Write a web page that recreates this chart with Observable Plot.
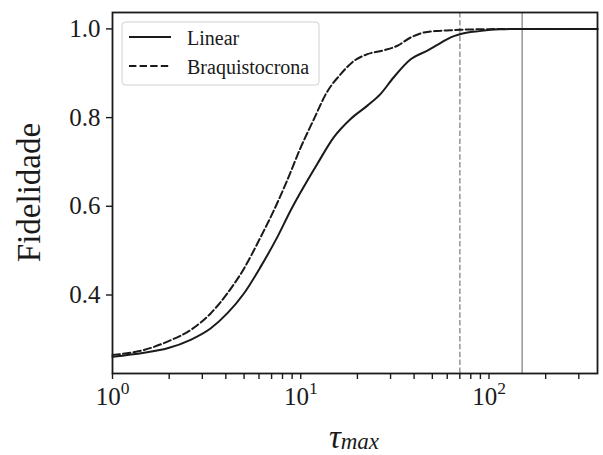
<!DOCTYPE html>
<html>
<head>
<meta charset="utf-8">
<script src="https://cdn.jsdelivr.net/npm/d3@7"></script>
<script src="https://cdn.jsdelivr.net/npm/@observablehq/plot@0.6"></script>
<style>
  html, body { margin: 0; padding: 0; background: #fff; }
</style>
</head>
<body>
<div id="chart"></div>
<script>
// ---- data ----
const tauLinear = [1, 1.47, 1.96, 2.6, 3.33, 4.08, 5.0, 6.13, 7.52, 8.85, 10, 12.26, 15, 18.4, 22.6, 26.5, 31.2, 38.5, 47.1, 55.7, 62.6, 70, 89, 114, 150, 200, 377];
const fidLinear = [0.261, 0.270, 0.280, 0.299, 0.325, 0.359, 0.404, 0.464, 0.531, 0.591, 0.632, 0.696, 0.756, 0.797, 0.827, 0.853, 0.891, 0.932, 0.951, 0.969, 0.981, 0.988, 0.995, 0.999, 1.0, 1.0, 1.0];

const tauBraq = [1, 1.47, 1.96, 2.6, 3.33, 4.08, 5.0, 6.13, 7.2, 8.5, 10, 11.7, 13.8, 16.3, 19.2, 22.6, 27.8, 32.6, 38.5, 45.2, 53.2, 62.6, 70, 100, 150, 377];
const fidBraq = [0.265, 0.276, 0.295, 0.321, 0.359, 0.404, 0.46, 0.531, 0.591, 0.66, 0.733, 0.795, 0.858, 0.898, 0.928, 0.943, 0.952, 0.962, 0.981, 0.992, 0.9955, 0.997, 0.998, 0.9995, 1.0, 1.0];

const vDashed = [70];
const vSolid = [150];

const xMajorTicks = [1, 10, 100];
const xMinorTicks = [2, 3, 4, 5, 6, 7, 8, 9, 20, 30, 40, 50, 60, 70, 80, 90, 200, 300];
const yTicks = [0.4, 0.6, 0.8, 1.0];

const seriesNames = ["Linear", "Braquistocrona"];
const xLabelMain = "τ";
const xLabelSub = "max";
const yLabel = "Fidelidade";

// ---- tables ----
const linearData = tauLinear.map((t, i) => ({tau: t, fid: fidLinear[i]}));
const braqData = tauBraq.map((t, i) => ({tau: t, fid: fidBraq[i]}));

const INK = "#1a1a1a";
const FONT = "Liberation Serif";
const DASH = "7.4,3.2";

const chart = Plot.plot({
  width: 603,
  height: 455,
  marginLeft: 112,
  marginRight: 6,
  marginTop: 12,
  marginBottom: 82,
  style: {fontFamily: FONT, background: "#fff", color: INK},
  x: {type: "log", domain: [1, 377]},
  y: {domain: [0.223, 1.037]},
  marks: [
    Plot.ruleX(vDashed, {stroke: "#9c9c9c", strokeWidth: 1.6, strokeDasharray: "5.5,2.4"}),
    Plot.ruleX(vSolid, {stroke: "#9c9c9c", strokeWidth: 1.6}),
    Plot.line(linearData, {x: "tau", y: "fid", stroke: INK, strokeWidth: 2, curve: "monotone-x"}),
    Plot.line(braqData, {x: "tau", y: "fid", stroke: INK, strokeWidth: 2, strokeDasharray: DASH, curve: "monotone-x"}),
    Plot.axisX({ticks: xMinorTicks, tickSize: 6, tickFormat: () => "", label: null, strokeWidth: 1.4}),
    Plot.axisX({ticks: xMajorTicks, tickSize: 6, tickPadding: 8, fontSize: 25, label: null, strokeWidth: 1.4,
      tickFormat: d => "10^" + Math.round(Math.log10(d))}),
    Plot.axisY({ticks: yTicks, tickSize: 6, tickPadding: 6, fontSize: 25, label: null, strokeWidth: 1.4,
      tickFormat: d3.format(".1f")}),
    Plot.frame({stroke: INK, strokeWidth: 1.8})
  ]
});

document.getElementById("chart").appendChild(chart);

const svg = d3.select(chart);

// superscripts on x tick labels
svg.selectAll('g[aria-label="x-axis tick label"] text').each(function() {
  const t = d3.select(this);
  const s = t.text();
  if (!s.includes("^")) return;
  const [base, exp] = s.split("^");
  t.text(null);
  t.append("tspan").text(base);
  t.append("tspan").attr("font-size", 17.5).attr("dy", -11.5).text(exp);
});

// axis titles
svg.append("text")
  .attr("transform", "translate(40,192.5) rotate(-90)")
  .attr("text-anchor", "middle")
  .style("font-family", FONT)
  .attr("font-size", 33)
  .attr("fill", INK)
  .text(yLabel);

const xl = svg.append("text")
  .attr("x", 354).attr("y", 448)
  .attr("text-anchor", "middle")
  .style("font-family", FONT)
  .attr("font-style", "italic")
  .attr("fill", INK);
xl.append("tspan").attr("font-size", 33).text(xLabelMain);
xl.append("tspan").attr("font-size", 23).attr("dy", 1).text(xLabelSub);

// legend
const lg = svg.append("g");
lg.append("rect")
  .attr("x", 122).attr("y", 22).attr("width", 197).attr("height", 63)
  .attr("rx", 3.5).attr("fill", "#fff").attr("fill-opacity", 0.85)
  .attr("stroke", "#cfcfcf").attr("stroke-width", 1);
const rows = [
  {name: seriesNames[0], y: 37, dash: null},
  {name: seriesNames[1], y: 66, dash: DASH}
];
rows.forEach(r => {
  const ln = lg.append("line")
    .attr("x1", 129).attr("x2", 171).attr("y1", r.y).attr("y2", r.y)
    .attr("stroke", INK).attr("stroke-width", 2);
  if (r.dash) ln.attr("stroke-dasharray", r.dash);
  lg.append("text")
    .attr("x", 187).attr("y", r.y + 7.5)
    .attr("text-anchor", "start")
    .style("font-family", FONT)
    .attr("font-size", 20).attr("fill", INK)
    .text(r.name);
});
</script>
</body>
</html>
